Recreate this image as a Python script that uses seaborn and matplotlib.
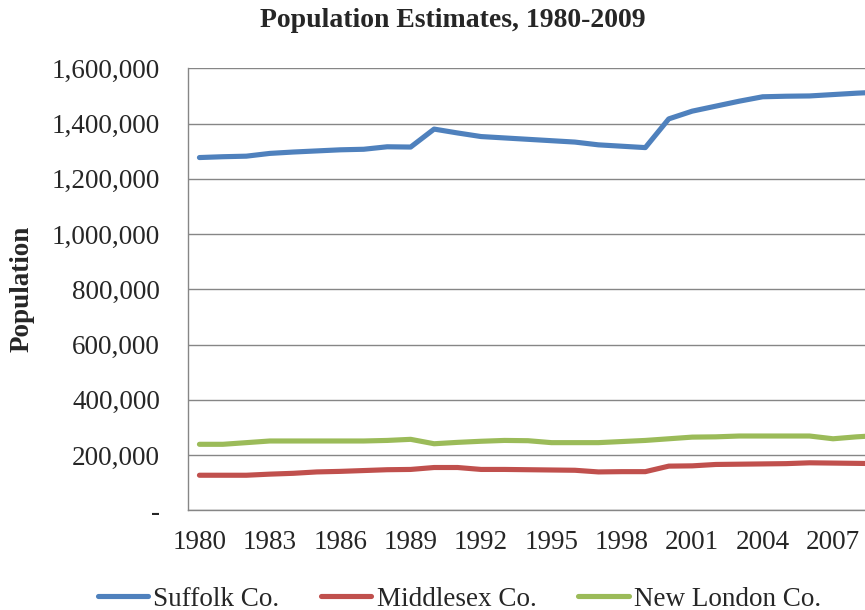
import pandas as pd
import matplotlib
matplotlib.use("Agg")
import matplotlib.pyplot as plt
from matplotlib.ticker import FuncFormatter
import seaborn as sns

years = list(range(1980, 2010))
suffolk = [1277000, 1280000, 1282000, 1292000, 1297000, 1301000, 1305000, 1307000, 1316000, 1315000,
           1380000, 1366000, 1353000, 1348000, 1343000, 1338000, 1333000, 1323000, 1318000, 1313000,
           1417000, 1445000, 1463000, 1481000, 1497000, 1499000, 1500000, 1505000, 1510000, 1514000]
middlesex = [127000, 127000, 127000, 131000, 134000, 139000, 141000, 144000, 147000, 148000,
             155000, 155000, 148000, 148000, 147000, 146000, 145000, 139000, 140000, 140000,
             160000, 161000, 166000, 167000, 168000, 169000, 172000, 171000, 170000, 169000]
new_london = [239000, 239000, 245000, 251000, 251000, 251000, 251000, 251000, 253000, 257000,
              241000, 246000, 250000, 253000, 252000, 245000, 245000, 245000, 249000, 253000,
              259000, 265000, 266000, 269000, 269000, 269000, 269000, 259000, 266000, 271000]
counties = ["Suffolk Co.", "Middlesex Co.", "New London Co."]
colors = ["#4F81BD", "#C0504D", "#9BBB59"]

df = pd.DataFrame({"Year": years * 3,
                   "Population": suffolk + middlesex + new_london,
                   "County": [c for c in counties for _ in years]})

sns.set_style("white")
plt.rcParams['font.family'] = ['Liberation Serif', 'DejaVu Serif']

fig = plt.figure(figsize=(8.65, 6.1), dpi=100)
ax = fig.add_axes([0.217, 0.1634, 0.8139, 0.7246])

sns.lineplot(data=df, x="Year", y="Population", hue="County", hue_order=counties,
             palette=colors, linewidth=3.7, ax=ax, legend=True)

ax.set_xlim(1979.5, 2009.5)
ax.set_ylim(0, 1600000)
ax.set_xticks(range(1980, 2009, 3))
ax.set_yticks(range(0, 1600001, 200000))
ax.yaxis.set_major_formatter(FuncFormatter(lambda v, p: "-" if v == 0 else f"{int(v):,}"))
ax.tick_params(length=0, labelsize=19.5)
ax.tick_params(axis="y", pad=20)
ax.tick_params(axis="x", pad=14)
ax.grid(axis="y", color="#868686", linewidth=1)
ax.set_axisbelow(True)
for s in ["top", "right"]:
    ax.spines[s].set_visible(False)
for s in ["left", "bottom"]:
    ax.spines[s].set_color("#868686")
    ax.spines[s].set_linewidth(1)

ax.set_xlabel("")
ax.set_ylabel("")
fig.text(0.025, 0.527, "Population", rotation=90, fontsize=19.5, fontweight="bold",
         ha="center", va="center")
fig.text(0.524, 0.966, "Population Estimates, 1980-2009", fontsize=20, fontweight="bold",
         ha="center", va="center")

ax.legend(loc="center", bbox_to_anchor=(0.531, 0.018), bbox_transform=fig.transFigure,
          ncol=3, frameon=False, fontsize=19.5, handlelength=1.85, handletextpad=0.2,
          columnspacing=1.55, title=None)

fig.savefig("out.png", dpi=100)
